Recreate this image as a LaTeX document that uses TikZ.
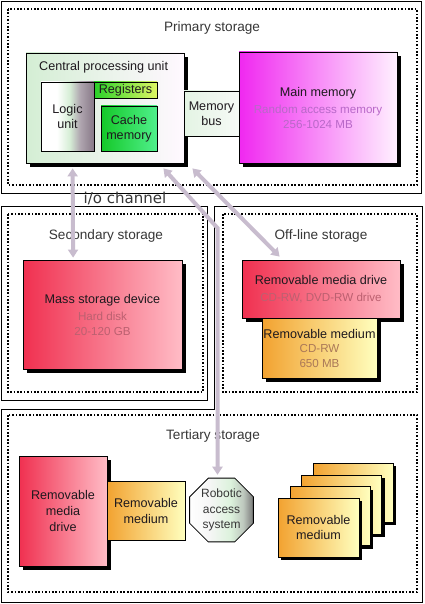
\documentclass[tikz,border=0pt]{standalone}
\usepackage{fontspec}
\setmainfont{Liberation Sans}
\newfontfamily\dejavu{DejaVu Sans}
\usetikzlibrary{shapes.geometric,shadows,arrows.meta,calc}
\definecolor{arrowc}{RGB}{200,188,206}
\definecolor{hdr}{RGB}{55,55,55}
\definecolor{lbl}{RGB}{30,25,30}
\definecolor{subm}{RGB}{184,104,200}
\definecolor{subr}{RGB}{188,96,112}
\definecolor{subo}{RGB}{170,120,88}
\definecolor{redL}{RGB}{240,48,80}
\definecolor{redM}{RGB}{250,150,140}
\definecolor{redR}{RGB}{255,188,198}
\definecolor{orL}{RGB}{242,162,48}
\definecolor{orM}{RGB}{255,228,110}
\definecolor{orR}{RGB}{255,255,190}
\definecolor{magL}{RGB}{240,40,240}
\definecolor{magM}{RGB}{255,140,255}
\definecolor{magR}{RGB}{255,240,255}
\definecolor{octA}{RGB}{246,246,246}
\definecolor{octM}{RGB}{220,242,220}
\definecolor{octN}{RGB}{190,200,190}
\definecolor{octR}{RGB}{120,120,120}
\definecolor{logM}{RGB}{214,238,214}
\definecolor{logN}{RGB}{175,165,175}
\definecolor{logR}{RGB}{135,120,135}
\pgfdeclarehorizontalshading{octshade}{100bp}{color(0bp)=(white); color(25bp)=(white); color(40bp)=(octA); color(57bp)=(octM); color(67bp)=(octN); color(75bp)=(octR); color(100bp)=(octR)}
\pgfdeclarehorizontalshading{logicshade}{100bp}{color(0bp)=(white); color(25bp)=(white); color(40bp)=(white); color(52bp)=(logM); color(62bp)=(logN); color(75bp)=(logR); color(100bp)=(logR)}
\begin{document}
\begin{tikzpicture}[x=1pt,y=-1pt,
  outerbox/.style={draw=black, line width=0.9pt},
  dotbox/.style={draw=black, line width=1.7pt, dash pattern=on 1.7pt off 1.7pt},
  header/.style={text=hdr, font=\fontsize{13.6}{16}\selectfont},
  box/.style={draw=black, line width=0.8pt, inner sep=0pt, align=center, text=lbl,
    font=\fontsize{12.6}{14.5}\selectfont},
  shbox/.style={box, drop shadow={shadow xshift=4pt, shadow yshift=-4pt, fill=black, opacity=1}},
  smshbox/.style={box, drop shadow={shadow xshift=3pt, shadow yshift=-3pt, fill=black, opacity=1}},
  redgrad/.style={left color=redL, middle color=redM, right color=redR},
  orgrad/.style={left color=orL, middle color=orM, right color=orR},
  io/.style={draw=arrowc, line width=4pt, arrows={Triangle[width=10pt,length=8pt]-Triangle[width=10pt,length=8pt]}}
]
\useasboundingbox (0,0) rectangle (424,604);
\fill[white] (0,0) rectangle (424,604);

% ---------- outer frames
\draw[outerbox] (1,1) rectangle (421,193);
\draw[dotbox] (8,9) rectangle (417,185);
\draw[outerbox] (1,206) rectangle (207,400);
\draw[dotbox] (8,214) rectangle (203,392);
\draw[outerbox] (1,409) -- (214,409) -- (214,206) -- (422,206) -- (422,602) -- (1,602) -- cycle;
\draw[dotbox] (223,214) rectangle (417,392);
\draw[dotbox] (8,415) rectangle (417,592);

\node[header] (hprim) at (212,28) {Primary storage};
\node[header] (hsec) at (106,236) {Secondary storage};
\node[header] (hoff) at (321,236) {Off-line storage};
\node[header] (hter) at (213,436) {Tertiary storage};
\node[text=hdr, font=\dejavu\fontsize{15}{17}\selectfont] (ioc) at (125,198) {i/o channel};

% ---------- primary storage
\node[shbox, minimum width=158pt, minimum height=110pt,
  left color={rgb,255:red,212;green,238;blue,212}, middle color={rgb,255:red,248;green,244;blue,248},
  right color={rgb,255:red,255;green,248;blue,255}] (cpu) at (105,108) {};
\node[anchor=west, text=lbl, font=\fontsize{12.6}{14.5}\selectfont, inner sep=0pt] (cpul) at (39,67) {Central processing unit};
\node[box, minimum width=53pt, minimum height=69pt, shade, shading=logicshade] (logic) at (67.5,116.5) {Logic\\unit};
\node[box, minimum width=63pt, minimum height=16pt,
  left color={rgb,255:red,40;green,208;blue,40}, right color={rgb,255:red,224;green,246;blue,100}] (reg) at (125.5,90) {Registers};
\node[box, minimum width=56pt, minimum height=45pt,
  left color={rgb,255:red,20;green,200;blue,40}, right color={rgb,255:red,80;green,240;blue,140}] (cache) at (129,128.5) {Cache\\memory};
\node[box, minimum width=55pt, minimum height=45pt,
  left color={rgb,255:red,228;green,244;blue,228}, right color={rgb,255:red,246;green,250;blue,246}] (bus) at (211.5,113.5) {Memory\\bus};
\node[shbox, minimum width=158pt, minimum height=111pt,
  left color=magL, middle color=magM, right color=magR] (mm) at (318,107.5)
  {Main memory\\[3pt]{\fontsize{11.6}{14}\selectfont\color{subm}Random access memory}\\{\fontsize{11.6}{14}\selectfont\color{subm}256-1024 MB}};

% ---------- secondary storage
\node[shbox, minimum width=159pt, minimum height=109pt, redgrad] (mass) at (102.5,314.5)
  {Mass storage device\\[3pt]{\fontsize{11.6}{14}\selectfont\color{subr}Hard disk}\\{\fontsize{11.6}{14}\selectfont\color{subr}20-120 GB}};

% ---------- off-line storage
\node[shbox, minimum width=158pt, minimum height=58pt, redgrad] (rmd) at (321,289)
  {Removable media drive\\[2pt]{\fontsize{11.6}{14}\selectfont\color{subr}CD-RW, DVD-RW drive}};
\node[shbox, minimum width=115pt, minimum height=60pt, orgrad] (rm) at (319.5,348)
  {Removable medium\\{\fontsize{11.6}{14}\selectfont\color{subo}CD-RW}\\{\fontsize{11.6}{14}\selectfont\color{subo}650 MB}};

% ---------- tertiary storage
\node[shbox, minimum width=88pt, minimum height=110pt, redgrad,
  font=\fontsize{12.6}{16}\selectfont] (trmd) at (63,511) {Removable\\media\\drive};
\node[box, minimum width=78pt, minimum height=59pt, orgrad,
  font=\fontsize{12.6}{16}\selectfont] (trm) at (146,510.5) {Removable\\medium};
\node[draw=black, line width=0.8pt, regular polygon, regular polygon sides=8, minimum size=69pt,
  inner sep=0pt, align=center, text=hdr, font=\fontsize{12}{15.5}\selectfont,
  shade, shading=octshade] (oct) at (221.5,510) {Robotic\\access\\system};
\node[smshbox, minimum width=80pt, minimum height=59pt, orgrad] (c4) at (353,492.5) {};
\node[smshbox, minimum width=80pt, minimum height=59pt, orgrad] (c3) at (341.5,504.5) {};
\node[smshbox, minimum width=80pt, minimum height=59pt, orgrad] (c2) at (330,516) {};
\node[smshbox, minimum width=81pt, minimum height=59pt, orgrad,
  font=\fontsize{12.6}{15.5}\selectfont] (c1) at (318.5,527.5) {Removable\\medium};

% ---------- i/o channel arrows
\coordinate (bend) at (217.5,228);
\draw[io] ($(cpu.south west)+(47,5)$) -- ($(mass.north west)+(50.5,-2)$);
\draw[io] ($(cpu.south east)+(8,5)$) -- ($(rmd.north west)+(38,-3)$);
\draw[io] ($(cpu.south east)+(-21,5)$) -- (bend) -- ([yshift=3pt]bend |- oct.north);
\end{tikzpicture}
\end{document}
